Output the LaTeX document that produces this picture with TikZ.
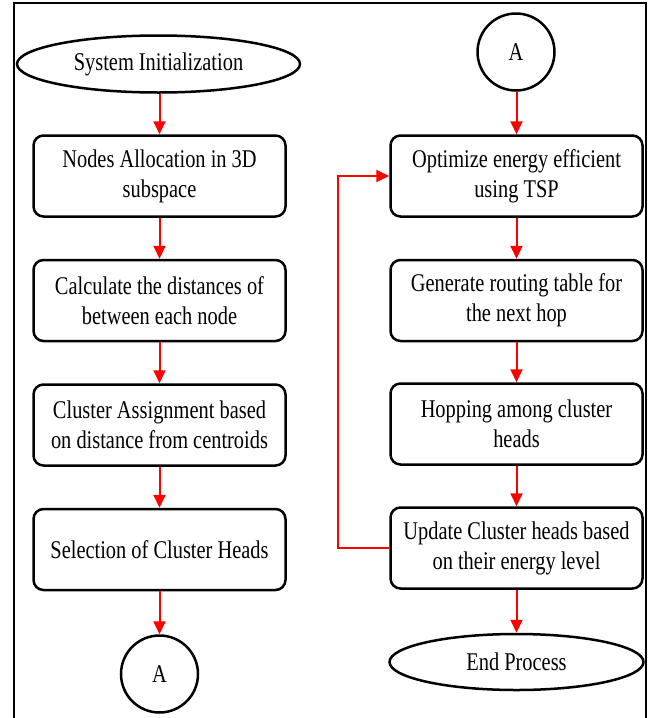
\documentclass[tikz,border=0pt]{standalone}
\usepackage{fontspec}
\setmainfont[FakeStretch=0.8]{Liberation Serif}
\usetikzlibrary{arrows.meta,shapes.geometric}
\begin{document}
\begin{tikzpicture}[x=1pt,y=-1pt,
  every node/.style={font=\fontsize{25.5}{30}\selectfont, align=center, inner sep=0pt},
  procbox/.style={draw, line width=2.5pt, rounded corners=10pt, minimum width=252pt, minimum height=81pt},
  twoline/.style={procbox, execute at begin node={\rule{0pt}{27.5pt}}},
  term/.style={draw, ellipse, line width=2.5pt},
  conn/.style={draw, circle, line width=2.5pt, minimum size=77pt},
  flow/.style={draw=red, line width=2pt, -{Triangle[length=13pt,width=12pt]}}
]
\useasboundingbox (0,0) rectangle (655,718);
\draw[line width=2pt] (14,718) -- (14,3) -- (646,3) -- (646,718);

% left column
\node[term, minimum width=283pt, minimum height=57pt] (sys) at (158.5,64) {System Initialization};
\node[twoline] (b1) at (159.5,176) {Nodes Allocation in 3D\\subspace};
\node[twoline] (b2) at (159.5,300.5) {Calculate the distances of\\between each node};
\node[twoline] (b3) at (159.5,425) {Cluster Assignment based\\on distance from centroids};
\node[procbox] (b4) at (159.5,549.5) {Selection of Cluster Heads};
\node[conn] (a1) at (159.5,674) {A};

% right column
\node[conn] (a2) at (516,52) {A};
\node[twoline] (r1) at (516.5,176) {Optimize energy efficient\\using TSP};
\node[twoline] (r2) at (516.5,300.5) {Generate routing table for\\the next hop};
\node[twoline] (r3) at (516.5,424) {Hopping among cluster\\heads};
\node[twoline] (r4) at (516.5,548) {Update Cluster heads based\\on their energy level};
\node[term, minimum width=254pt, minimum height=56pt] (end) at (516.5,662) {End Process};

\path[flow] (sys.south -| b1.north) -- (b1.north);
\path[flow] (b1) -- (b2);
\path[flow] (b2) -- (b3);
\path[flow] (b3) -- (b4);
\path[flow] (b4) -- (a1);
\path[flow] (a2.south -| r1.north) -- (r1.north);
\path[flow] (r1) -- (r2);
\path[flow] (r2) -- (r3);
\path[flow] (r3) -- (r4);
\path[flow] (r4) -- (end);
\coordinate (fbx) at (338,0);
\path[flow] (r4.west) -- (r4.west -| fbx) |- (r1.west);
\end{tikzpicture}
\end{document}
